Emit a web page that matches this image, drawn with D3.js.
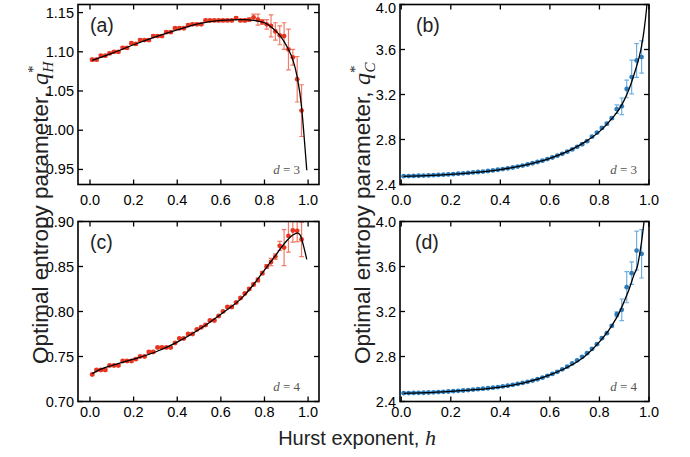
<!DOCTYPE html>
<html>
<head>
<meta charset="utf-8">
<script src="https://cdn.jsdelivr.net/npm/d3@7"></script>
<style>
  body { margin: 0; background: #fff; }
  svg text { font-family: "Liberation Sans", Arial, sans-serif; }
</style>
</head>
<body>
<div id="graph"></div>
<script>
// Hurst exponents of the simulated points
const hurst = [0.01, 0.03, 0.05, 0.07, 0.09, 0.11, 0.13, 0.15, 0.17, 0.19,
    0.21, 0.23, 0.25, 0.27, 0.29, 0.31, 0.33, 0.35, 0.37, 0.39,
    0.41, 0.43, 0.45, 0.47, 0.49, 0.51, 0.53, 0.55, 0.57, 0.59,
    0.61, 0.63, 0.65, 0.67, 0.69, 0.71, 0.73, 0.75, 0.77, 0.79,
    0.81, 0.83, 0.85, 0.87, 0.89, 0.91, 0.93, 0.95, 0.97]

// (a) q_H, d = 3
const qH3 = [1.090, 1.090, 1.095, 1.095, 1.098, 1.100, 1.100, 1.105, 1.105, 1.111,
    1.110, 1.115, 1.115, 1.115, 1.120, 1.120, 1.120, 1.125, 1.125, 1.130,
    1.130, 1.130, 1.134, 1.135, 1.135, 1.135, 1.140, 1.140, 1.140, 1.140,
    1.140, 1.140, 1.140, 1.143, 1.140, 1.140, 1.141, 1.144, 1.141, 1.138,
    1.135, 1.133, 1.126, 1.121, 1.120, 1.103, 1.093, 1.065, 1.025]
const qH3err = [0.0015, 0.0015, 0.0015, 0.0015, 0.0015, 0.0015, 0.0015, 0.0015, 0.0015, 0.0015,
    0.0015, 0.0015, 0.0015, 0.0015, 0.0015, 0.0015, 0.0015, 0.0015, 0.0015, 0.0015,
    0.0015, 0.0015, 0.0015, 0.0015, 0.0015, 0.0015, 0.0015, 0.0015, 0.0015, 0.0015,
    0.0015, 0.0015, 0.0015, 0.0015, 0.0015, 0.002, 0.002, 0.004, 0.007, 0.003,
    0.006, 0.014, 0.011, 0.012, 0.017, 0.026, 0.010, 0.029, 0.033]
const fitH3h = [0.01, 0.1, 0.2, 0.3, 0.4, 0.5, 0.6, 0.7, 0.75, 0.8, 0.85, 0.87, 0.89, 0.91, 0.93, 0.95, 0.97, 0.98, 0.99, 0.994]
const fitH3q = [1.089, 1.098, 1.109, 1.119, 1.128, 1.136, 1.140, 1.141, 1.140, 1.137, 1.127, 1.121, 1.113, 1.103, 1.090, 1.068, 1.030, 0.998, 0.963, 0.949]

// (b) q_C, d = 3
const qC3 = [2.474, 2.475, 2.476, 2.478, 2.479, 2.481, 2.483, 2.485, 2.487, 2.490,
    2.493, 2.496, 2.499, 2.503, 2.507, 2.511, 2.515, 2.520, 2.525, 2.531,
    2.537, 2.544, 2.551, 2.559, 2.568, 2.578, 2.589, 2.600, 2.612, 2.626,
    2.640, 2.656, 2.673, 2.692, 2.712, 2.735, 2.758, 2.785, 2.825, 2.862,
    2.903, 2.941, 2.990, 3.070, 3.095, 3.249, 3.355, 3.503, 3.533]
const qC3err = [0.006, 0.006, 0.006, 0.006, 0.006, 0.006, 0.006, 0.006, 0.006, 0.006,
    0.006, 0.006, 0.006, 0.006, 0.006, 0.006, 0.006, 0.006, 0.006, 0.006,
    0.006, 0.006, 0.006, 0.006, 0.006, 0.006, 0.006, 0.006, 0.006, 0.006,
    0.006, 0.006, 0.006, 0.006, 0.006, 0.007, 0.007, 0.008, 0.008, 0.009,
    0.010, 0.012, 0.012, 0.037, 0.074, 0.078, 0.150, 0.150, 0.143]
const fitC3h = [0.01, 0.1, 0.2, 0.3, 0.4, 0.5, 0.6, 0.7, 0.75, 0.8, 0.85, 0.88, 0.9, 0.92, 0.94, 0.96, 0.97, 0.98, 0.99, 0.995]
const fitC3q = [2.472, 2.478, 2.490, 2.507, 2.533, 2.572, 2.632, 2.725, 2.790, 2.870, 2.985, 3.070, 3.150, 3.250, 3.380, 3.530, 3.630, 3.770, 3.960, 4.080]

// (c) q_H, d = 4
const qH4 = [0.730, 0.735, 0.735, 0.735, 0.740, 0.740, 0.740, 0.745, 0.745, 0.745,
    0.747, 0.750, 0.750, 0.755, 0.755, 0.760, 0.760, 0.760, 0.760, 0.765,
    0.770, 0.770, 0.775, 0.775, 0.780, 0.7825, 0.785, 0.790, 0.790, 0.795,
    0.800, 0.805, 0.805, 0.810, 0.815, 0.820, 0.825, 0.830, 0.835, 0.8426,
    0.850, 0.855, 0.861, 0.873, 0.871, 0.884, 0.890, 0.8896, 0.880]
const qH4err = [0.001, 0.001, 0.001, 0.001, 0.001, 0.001, 0.001, 0.001, 0.001, 0.001,
    0.001, 0.001, 0.001, 0.001, 0.001, 0.001, 0.001, 0.001, 0.001, 0.001,
    0.001, 0.001, 0.001, 0.001, 0.001, 0.001, 0.001, 0.001, 0.001, 0.001,
    0.001, 0.001, 0.001, 0.001, 0.001, 0.001, 0.0015, 0.0015, 0.002, 0.002,
    0.002, 0.004, 0.003, 0.005, 0.020, 0.018, 0.013, 0.012, 0.019]
const fitH4h = [0.01, 0.05, 0.1, 0.2, 0.3, 0.4, 0.5, 0.6, 0.7, 0.75, 0.8, 0.85, 0.9, 0.93, 0.95, 0.96, 0.97, 0.98, 0.99, 0.994]
const fitH4q = [0.731, 0.736, 0.740, 0.747, 0.755, 0.766, 0.780, 0.797, 0.816, 0.830, 0.846, 0.862, 0.878, 0.885, 0.887, 0.886, 0.881, 0.872, 0.862, 0.858]

// (d) q_C, d = 4
const qC4 = [2.474, 2.475, 2.476, 2.477, 2.478, 2.480, 2.482, 2.484, 2.486, 2.489,
    2.492, 2.495, 2.498, 2.502, 2.506, 2.510, 2.514, 2.518, 2.523, 2.528,
    2.534, 2.541, 2.548, 2.556, 2.565, 2.575, 2.586, 2.598, 2.612, 2.628,
    2.645, 2.664, 2.686, 2.710, 2.738, 2.765, 2.797, 2.830, 2.868, 2.910,
    2.963, 3.007, 3.073, 3.176, 3.215, 3.416, 3.541, 3.742, 3.713]
const qC4err = [0.006, 0.006, 0.006, 0.006, 0.006, 0.006, 0.006, 0.006, 0.006, 0.006,
    0.006, 0.006, 0.006, 0.006, 0.006, 0.006, 0.006, 0.006, 0.006, 0.006,
    0.006, 0.006, 0.006, 0.006, 0.006, 0.006, 0.006, 0.006, 0.006, 0.006,
    0.006, 0.006, 0.006, 0.006, 0.006, 0.007, 0.007, 0.008, 0.008, 0.009,
    0.010, 0.010, 0.010, 0.022, 0.096, 0.138, 0.100, 0.173, 0.215]
const fitC4h = [0.01, 0.1, 0.2, 0.3, 0.4, 0.5, 0.6, 0.7, 0.74, 0.8, 0.85, 0.88, 0.9, 0.92, 0.94, 0.953, 0.96, 0.97, 0.98, 0.985]
const fitC4q = [2.472, 2.478, 2.490, 2.505, 2.528, 2.567, 2.636, 2.740, 2.800, 2.930, 3.075, 3.190, 3.290, 3.400, 3.530, 3.600, 3.680, 3.820, 4.000, 4.100]

const xTicks = [0, 0.2, 0.4, 0.6, 0.8, 1.0]
const ticksH3 = [0.95, 1.00, 1.05, 1.10, 1.15]
const ticksH4 = [0.70, 0.75, 0.80, 0.85, 0.90]
const ticksC = [2.4, 2.8, 3.2, 3.6, 4.0]

const red = { dot: "#e8351f", bar: "#f27a66" },
    blue = { dot: "#2c7bba", bar: "#6fb0e0" }

const panels = [
    { id: "a", x0: 78, x1: 319, y0: 4.5, y1: 184.5, xd: [-0.055, 1.05], yd: [0.9308, 1.1603], yt: ticksH3, fmt: ".2f",
      q: qH3, e: qH3err, fh: fitH3h, fq: fitH3q, col: red, d: "3", lx: 12, dx: 19, tb: 205 },
    { id: "b", x0: 400, x1: 649, y0: 4.5, y1: 184.5, xd: [-0.005, 1.0], yd: [2.4, 4.0], yt: ticksC, fmt: ".1f",
      q: qC3, e: qC3err, fh: fitC3h, fq: fitC3q, col: blue, d: "3", lx: 16, dx: 12, tb: 205 },
    { id: "c", x0: 78, x1: 319, y0: 221.5, y1: 401.5, xd: [-0.055, 1.05], yd: [0.70, 0.90], yt: ticksH4, fmt: ".2f",
      q: qH4, e: qH4err, fh: fitH4h, fq: fitH4q, col: red, d: "4", lx: 12, dx: 19, tb: 417 },
    { id: "d", x0: 400, x1: 649, y0: 221.5, y1: 401.5, xd: [-0.005, 1.0], yd: [2.4, 4.0], yt: ticksC, fmt: ".1f",
      q: qC4, e: qC4err, fh: fitC4h, fq: fitC4q, col: blue, d: "4", lx: 15, dx: 12, tb: 417 }
]

const svg = d3.select("#graph")
    .append("svg")
    .attr("width", 690)
    .attr("height", 457)

panels.forEach(p => {
    const x = d3.scaleLinear().domain(p.xd).range([p.x0, p.x1]),
        y = d3.scaleLinear().domain(p.yd).range([p.y1, p.y0])
    const g = svg.append("g")

    g.append("clipPath").attr("id", "clip-" + p.id)
        .append("rect")
        .attr("x", p.x0).attr("y", p.y0)
        .attr("width", p.x1 - p.x0).attr("height", p.y1 - p.y0)

    const plot = g.append("g").attr("clip-path", `url(#clip-${p.id})`)

    // error bars
    const bars = plot.selectAll(".eb").data(hurst).enter().append("g")
        .attr("class", "eb")
        .attr("stroke", p.col.bar).attr("stroke-width", 1.2)
    bars.append("line")
        .attr("x1", d => x(d)).attr("x2", d => x(d))
        .attr("y1", (d, i) => y(p.q[i] - p.e[i])).attr("y2", (d, i) => y(p.q[i] + p.e[i]))
    bars.append("line")
        .attr("x1", d => x(d) - 2.3).attr("x2", d => x(d) + 2.3)
        .attr("y1", (d, i) => y(p.q[i] - p.e[i])).attr("y2", (d, i) => y(p.q[i] - p.e[i]))
    bars.append("line")
        .attr("x1", d => x(d) - 2.3).attr("x2", d => x(d) + 2.3)
        .attr("y1", (d, i) => y(p.q[i] + p.e[i])).attr("y2", (d, i) => y(p.q[i] + p.e[i]))

    // points
    plot.selectAll("circle").data(hurst).enter().append("circle")
        .attr("cx", d => x(d))
        .attr("cy", (d, i) => y(p.q[i]))
        .attr("r", 2.4)
        .attr("fill", p.col.dot)

    // fitted curve
    const line = d3.line()
        .x((d, i) => x(d))
        .y((d, i) => y(p.fq[i]))
        .curve(d3.curveMonotoneX)
    plot.append("path")
        .attr("d", line(p.fh))
        .attr("fill", "none")
        .attr("stroke", "#000")
        .attr("stroke-width", 1.3)

    // ticks on all four sides, pointing inward
    const tl = 5
    const ticks = g.append("g").attr("stroke", "#000").attr("stroke-width", 1.3)
    xTicks.forEach(t => {
        ticks.append("line").attr("x1", x(t)).attr("x2", x(t)).attr("y1", p.y1).attr("y2", p.y1 - tl)
        ticks.append("line").attr("x1", x(t)).attr("x2", x(t)).attr("y1", p.y0).attr("y2", p.y0 + tl)
        g.append("text").attr("x", x(t)).attr("y", p.tb)
            .attr("text-anchor", "middle").attr("font-size", 14.5)
            .text(d3.format(".1f")(t))
    })
    p.yt.forEach(t => {
        ticks.append("line").attr("x1", p.x0).attr("x2", p.x0 + tl).attr("y1", y(t)).attr("y2", y(t))
        ticks.append("line").attr("x1", p.x1).attr("x2", p.x1 - tl).attr("y1", y(t)).attr("y2", y(t))
        g.append("text").attr("x", p.x0 - 4).attr("y", Math.max(y(t) + 5, 12.5))
            .attr("text-anchor", "end").attr("font-size", 14.5)
            .text(d3.format(p.fmt)(t))
    })

    g.append("rect")
        .attr("x", p.x0).attr("y", p.y0)
        .attr("width", p.x1 - p.x0).attr("height", p.y1 - p.y0)
        .attr("fill", "none").attr("stroke", "#000").attr("stroke-width", 1.6)

    // panel letter
    g.append("text")
        .attr("x", p.x0 + p.lx).attr("y", p.y0 + 27)
        .attr("font-size", 19.5)
        .attr("fill", "#222")
        .text("(" + p.id + ")")

    // d = n label
    const dl = g.append("text")
        .attr("x", p.x1 - p.dx).attr("y", p.y1 - 11)
        .attr("text-anchor", "end")
        .attr("font-size", 13)
        .attr("fill", "#555")
        .style("font-family", "'Liberation Serif', 'DejaVu Serif', serif")
    dl.append("tspan").attr("font-style", "italic").text("d")
    dl.append("tspan").text(" = " + p.d)
})

// y-axis titles
function yTitle(xPos, sub) {
    const t = svg.append("text")
        .attr("transform", `translate(${xPos},364) rotate(-90)`)
        .attr("text-anchor", "start")
        .attr("font-size", 22.5)
        .attr("fill", "#222")
    t.append("tspan").text("Optimal entropy parameter, ")
    t.append("tspan").text("q")
        .style("font-family", "'Liberation Serif', 'DejaVu Serif', serif")
        .attr("font-style", "italic").attr("font-size", 24)
    t.append("tspan").text("*")
        .style("font-family", "'Liberation Serif', 'DejaVu Serif', serif")
        .attr("font-size", 15).attr("dy", -10)
    t.append("tspan").text(sub)
        .style("font-family", "'Liberation Serif', 'DejaVu Serif', serif")
        .attr("font-style", "italic").attr("font-size", 15)
        .attr("dx", -7).attr("dy", 15)
}
yTitle(48, "H")
yTitle(370, "C")

// x-axis title
const xt = svg.append("text")
    .attr("x", 357).attr("y", 445)
    .attr("text-anchor", "middle")
    .attr("font-size", 20)
    .attr("fill", "#222")
xt.append("tspan").text("Hurst exponent, ")
xt.append("tspan").text("h")
    .style("font-family", "'Liberation Serif', 'DejaVu Serif', serif")
    .attr("font-style", "italic").attr("font-size", 22)
</script>
</body>
</html>
